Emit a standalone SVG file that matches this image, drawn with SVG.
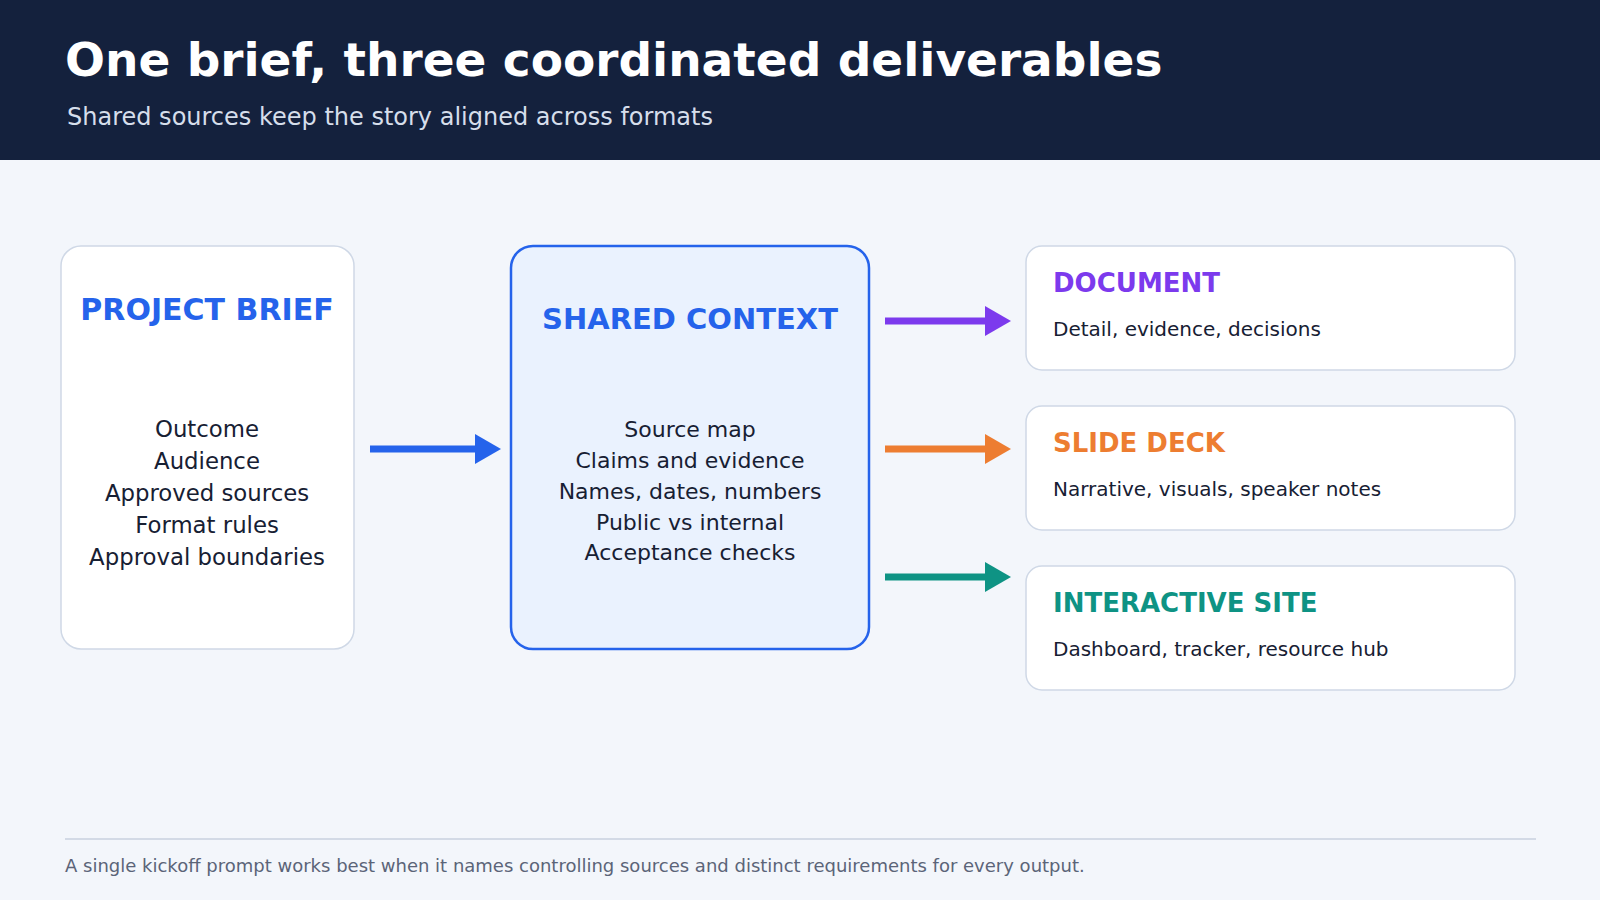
<svg xmlns="http://www.w3.org/2000/svg" width="1600" height="900" viewBox="0 0 1600 900">
<style>
text{font-family:"DejaVu Sans",sans-serif}
.card{fill:#fff;stroke:#cfd8e6;stroke-width:1.5}
.list{font-size:22.8px;fill:#172033;text-anchor:middle}
.l2{font-size:22px}
.ot{font-size:26px;font-weight:bold}
.os{font-size:20px;fill:#172033}
</style>
<rect width="1600" height="900" fill="#f3f6fb"/>
<rect width="1600" height="160" fill="#14213d"/>
<text x="65" y="76" font-size="47" font-weight="bold" fill="#fff">One brief, three coordinated deliverables</text>
<text x="67" y="125" font-size="24" fill="#d6deeb">Shared sources keep the story aligned across formats</text>
<g id="connectors">
<line x1="370" y1="449" x2="478" y2="449" stroke="#2563eb" stroke-width="7"/><polygon points="475,434 501,449 475,464" fill="#2563eb"/>
<line x1="885" y1="321" x2="988" y2="321" stroke="#7c3aed" stroke-width="7"/><polygon points="985,306 1011,321 985,336" fill="#7c3aed"/>
<line x1="885" y1="449" x2="988" y2="449" stroke="#ed7d31" stroke-width="7"/><polygon points="985,434 1011,449 985,464" fill="#ed7d31"/>
<line x1="885" y1="577" x2="988" y2="577" stroke="#0e9384" stroke-width="7"/><polygon points="985,562 1011,577 985,592" fill="#0e9384"/>
</g>
<g id="brief">
<rect class="card" x="61" y="246" width="293" height="403" rx="20"/>
<text x="207" y="320" font-size="30" font-weight="bold" fill="#2563eb" text-anchor="middle">PROJECT BRIEF</text>
<text class="list" x="207" y="437">Outcome</text><text class="list" x="207" y="469">Audience</text><text class="list" x="207" y="501">Approved sources</text><text class="list" x="207" y="533">Format rules</text><text class="list" x="207" y="565">Approval boundaries</text>
</g>
<g id="context">
<rect x="511" y="246" width="358" height="403" rx="22" fill="#eaf2fe" stroke="#2563eb" stroke-width="2.5"/>
<text x="690" y="329" font-size="29" font-weight="bold" fill="#2563eb" text-anchor="middle">SHARED CONTEXT</text>
<text class="list l2" x="690" y="437">Source map</text><text class="list l2" x="690" y="468">Claims and evidence</text><text class="list l2" x="690" y="499">Names, dates, numbers</text><text class="list l2" x="690" y="530">Public vs internal</text><text class="list l2" x="690" y="560">Acceptance checks</text>
</g>
<g id="document"><rect class="card" x="1026" y="246" width="489" height="124" rx="16"/><text class="ot" x="1053" y="292" fill="#7c3aed">DOCUMENT</text><text class="os" x="1053" y="336">Detail, evidence, decisions</text></g>
<g id="slides"><rect class="card" x="1026" y="406" width="489" height="124" rx="16"/><text class="ot" x="1053" y="452" fill="#ed7d31">SLIDE DECK</text><text class="os" x="1053" y="496">Narrative, visuals, speaker notes</text></g>
<g id="site"><rect class="card" x="1026" y="566" width="489" height="124" rx="16"/><text class="ot" x="1053" y="612" fill="#0e9384">INTERACTIVE SITE</text><text class="os" x="1053" y="656">Dashboard, tracker, resource hub</text></g>
<line x1="65" y1="839" x2="1536" y2="839" stroke="#d3dae6" stroke-width="2"/>
<text x="65" y="872" font-size="18" fill="#5b6478">A single kickoff prompt works best when it names controlling sources and distinct requirements for every output.</text>
</svg>
